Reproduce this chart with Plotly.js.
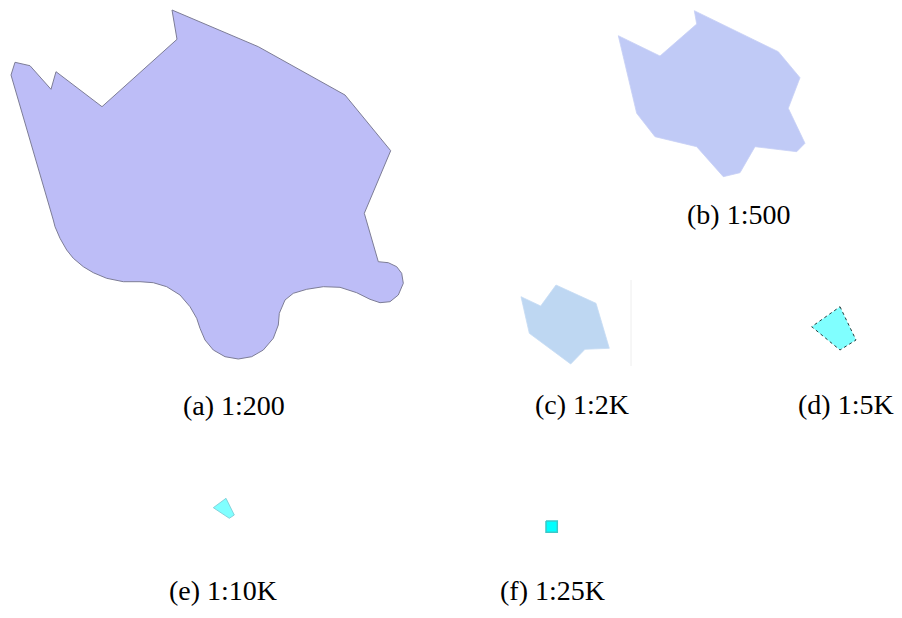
<!DOCTYPE html>
<html>
<head>
<meta charset="utf-8">
<script src="https://cdn.plot.ly/plotly-3.0.1.min.js"></script>
<style>html,body{margin:0;padding:0;background:#fff;}#chart{width:902px;height:618px;}</style>
</head>
<body>
<div id="chart"></div>
<script>
// Shape (a) 1:200 outline vertices
const xA = [172,177,102,56,51,30,15,11,53.3,55,60,66.7,73.3,83.3,93.3,106.7,123.3,140,153.3,166.7,180,190,196.7,200,205,213.3,225,238.3,251.7,263.3,273.3,278.3,279.3,285,293.3,306.7,323.3,340,356.7,370,380,390,398.3,403.3,401.7,396.7,388.3,378.3,364.3,390.7,345,258.3,172];
const yA = [10,39.3,106.7,71.7,89.3,65.7,62.3,75,220,226.7,238.3,250,258.3,266.7,272.7,278.3,281.7,281.7,282.7,286.7,295,306.7,318.3,328.3,340,350,356.7,359,356.7,350,338.3,325,313.3,300,293.3,289.3,286.7,287.3,292.7,299.3,302.7,301.7,295,283.3,273.3,266.7,262.7,261.7,213.3,150.7,95,46.7,10];
// Shape (b) 1:500
const xB = [694.3,696.7,660,618.3,636.7,655,696.7,723.3,740,755,796.7,805,788.3,800,778.3,694.3];
const yB = [10.7,24,56,35.7,113.3,136.7,146.7,176.7,172.7,146.7,151.7,143.3,108.3,77.7,51.7,10.7];
// Shape (c) 1:2K
const xC = [556,596,609.3,585,570.7,529.3,521,540.7,556];
const yC = [285,303.3,348.3,349.3,364,333.3,296.7,306,285];
// Shape (d) 1:5K
const xD = [840,856,840,811.7,840];
const yD = [306.7,340,350,326.7,306.7];
// Shape (e) 1:10K
const xE = [226,234.3,229.3,213.3,226];
const yE = [498.3,515,518.3,507.7,498.3];
// Shape (f) 1:25K
const xF = [546,557.3,557.3,546,546];
const yF = [521,521,532.3,532.3,521];
// faint separator near (c)
const xSep = [631,631];
const ySep = [280,366];

const labels = ["(a) 1:200","(b) 1:500","(c) 1:2K","(d) 1:5K","(e) 1:10K","(f) 1:25K"];
const labelX = [234,738,582,846,223,552];
const labelY = [405,214,404,404,590,590];

function poly(x,y,fill,lineColor,lw,dash){
  return {type:'scatter',mode:'lines',x:x,y:y,fill:'toself',fillcolor:fill,
    line:{color:lineColor,width:lw,dash:dash||'solid'},hoverinfo:'skip',showlegend:false};
}
const data = [
  poly(xA,yA,'rgb(189,189,247)','rgb(125,125,150)',1),
  poly(xB,yB,'rgb(192,202,246)','rgb(200,208,245)',0.8),
  poly(xC,yC,'rgb(190,215,242)','rgb(198,220,244)',0.8),
  poly(xD,yD,'rgb(128,255,255)','rgb(40,60,60)',1,'dot'),
  poly(xE,yE,'rgb(128,255,255)','rgb(120,200,210)',0.8),
  poly(xF,yF,'rgb(0,255,255)','rgb(60,200,200)',1.5),
  {type:'scatter',mode:'lines',x:xSep,y:ySep,line:{color:'rgb(238,238,238)',width:1},hoverinfo:'skip',showlegend:false}
];
const annotations = labels.map((t,i)=>({text:t,x:labelX[i],y:labelY[i],xref:'x',yref:'y',
  showarrow:false,xanchor:'center',yanchor:'middle',
  font:{family:'Liberation Serif, Times New Roman, serif',size:28,color:'#000'}}));
const layout = {
  width:902,height:618,margin:{l:0,r:0,t:0,b:0},
  paper_bgcolor:'#fff',plot_bgcolor:'#fff',
  xaxis:{range:[0,902],visible:false,fixedrange:true},
  yaxis:{range:[618,0],visible:false,fixedrange:true},
  annotations:annotations,showlegend:false
};
Plotly.newPlot('chart',data,layout,{staticPlot:true,displayModeBar:false});
</script>
</body>
</html>
